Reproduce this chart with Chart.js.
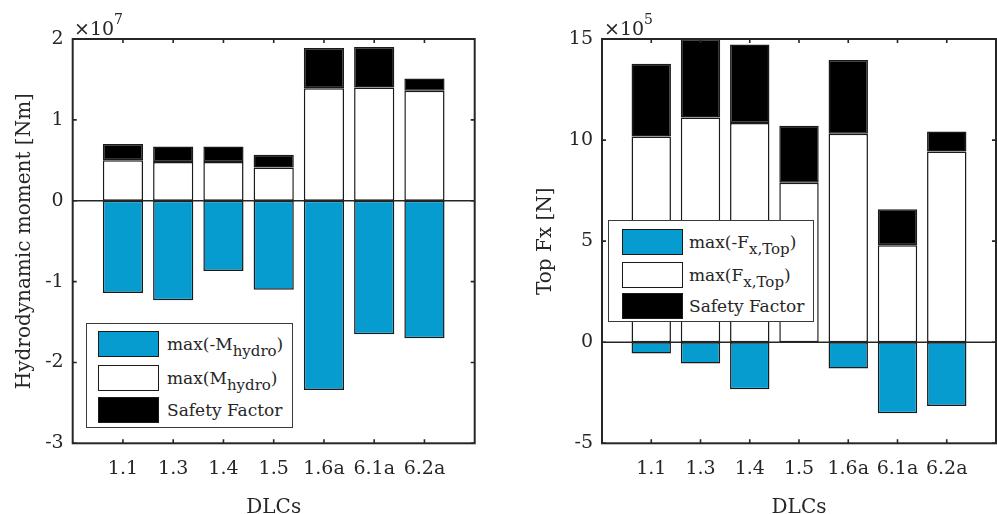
<!DOCTYPE html>
<html>
<head>
<meta charset="utf-8">
<script src="https://cdn.jsdelivr.net/npm/chart.js@4.4.0/dist/chart.umd.min.js"></script>
<style>
html, body { margin: 0; padding: 0; overflow: hidden; background: #fff; }
body { font-family: "DejaVu Serif", serif; color: #262626; }
#wrap { position: relative; width: 1010px; height: 514px; overflow: hidden; }
.pane { position: absolute; top: 0; }
.expo { position: absolute; font-size: 19px; line-height: 19px; white-space: nowrap; }
.expo sup { font-size: 14px; position: relative; top: -4px; }
.legend { position: absolute; background: #fff; border: 1px solid #3a3a3a; box-sizing: border-box; font-size: 17px; }
.patch { position: absolute; width: 61px; height: 26px; box-sizing: border-box; border: 1.5px solid #1a1a1a; }
.txt { position: absolute; left: 80px; line-height: 26px; white-space: nowrap; }
.txt sub { font-size: 15px; vertical-align: -6px; line-height: 0; }
</style>
</head>
<body>
<div id="wrap">
  <div class="pane" style="left:0"><canvas id="moment" width="497" height="514"></canvas></div>
  <div class="pane" style="left:497px"><canvas id="fx" width="513" height="514"></canvas></div>

  <div class="expo" style="left:74px; top:14px">&times;10<sup>7</sup></div>
  <div class="expo" style="left:604px; top:14px">&times;10<sup>5</sup></div>

  <div class="legend" id="legMoment" style="left:86px; top:323px; width:207px; height:105px">
    <div class="patch p0" style="left:11px; top:7px"></div>
    <div class="txt" style="top:7px">max(-M<sub>hydro</sub>)</div>
    <div class="patch p1" style="left:11px; top:41px"></div>
    <div class="txt" style="top:41px">max(M<sub>hydro</sub>)</div>
    <div class="patch p2" style="left:11px; top:73px"></div>
    <div class="txt" style="top:73px">Safety Factor</div>
  </div>

  <div class="legend" id="legFx" style="left:608px; top:220px; width:206px; height:102px">
    <div class="patch p0" style="left:13px; top:8px"></div>
    <div class="txt" style="top:8px">max(-F<sub>x,Top</sub>)</div>
    <div class="patch p1" style="left:13px; top:41px"></div>
    <div class="txt" style="top:41px">max(F<sub>x,Top</sub>)</div>
    <div class="patch p2" style="left:13px; top:72px"></div>
    <div class="txt" style="top:72px">Safety Factor</div>
  </div>
</div>

<script>
// load cases on the x axis
var dlcs = ['1.1', '1.3', '1.4', '1.5', '1.6a', '6.1a', '6.2a'];

// hydrodynamic moment, in 1e7 Nm
var momentNeg    = [-1.14, -1.23, -0.87, -1.10, -2.34, -1.65, -1.70];
var momentPos    = [0.50, 0.48, 0.48, 0.41, 1.39, 1.40, 1.36];
var momentSafety = [0.20, 0.19, 0.19, 0.16, 0.50, 0.50, 0.15];

// top Fx, in 1e5 N
var fxNeg    = [-0.56, -1.05, -2.33, 0, -1.30, -3.51, -3.15];
var fxPos    = [10.18, 11.12, 10.85, 7.89, 10.31, 4.80, 9.44];
var fxSafety = [3.60, 3.88, 3.88, 2.82, 3.65, 1.78, 0.99];

var momentRange = [-3, 2, 1];   // min, max, step
var fxRange     = [-5, 15, 5];

var colNeg = '#079ccf';
var colPos = '#ffffff';
var colSafety = '#000000';
var axisColor = '#262626';
var fontFam = '"DejaVu Serif", serif';

document.querySelectorAll('.p0').forEach(function (e) { e.style.background = colNeg; });
document.querySelectorAll('.p1').forEach(function (e) { e.style.background = colPos; });
document.querySelectorAll('.p2').forEach(function (e) { e.style.background = colSafety; });

// matlab style box: frame, inward ticks on all sides, baseline at zero
var axesBox = {
  id: 'axesBox',
  afterDraw: function (chart) {
    var ctx = chart.ctx, a = chart.chartArea;
    var x = chart.scales.x, y = chart.scales.y;
    var tl = 4;
    ctx.save();
    ctx.strokeStyle = axisColor;
    ctx.lineWidth = 1.6;

    var y0 = y.getPixelForValue(0);
    ctx.beginPath();
    ctx.moveTo(a.left, y0);
    ctx.lineTo(a.right, y0);
    ctx.stroke();

    ctx.beginPath();
    x.ticks.forEach(function (t) {
      if (t.value < 1 || t.value > dlcs.length) return;
      var px = x.getPixelForValue(t.value);
      ctx.moveTo(px, a.bottom); ctx.lineTo(px, a.bottom - tl);
      ctx.moveTo(px, a.top); ctx.lineTo(px, a.top + tl);
    });
    y.ticks.forEach(function (t) {
      var py = y.getPixelForValue(t.value);
      ctx.moveTo(a.left, py); ctx.lineTo(a.left + tl, py);
      ctx.moveTo(a.right, py); ctx.lineTo(a.right - tl, py);
    });
    ctx.stroke();

    ctx.lineWidth = 2;
    ctx.strokeRect(a.left, a.top, a.right - a.left, a.bottom - a.top);
    ctx.restore();
  }
};

function points(arr) {
  return arr.map(function (v, i) { return { x: i + 1, y: v }; });
}

function makeChart(id, neg, pos, safety, range, yTitle, yWidth, padRight, titlePad) {
  var barStyle = {
    borderColor: '#1a1a1a',
    borderWidth: 1.5,
    borderSkipped: false,
    barPercentage: 0.8,
    categoryPercentage: 1.0
  };
  return new Chart(document.getElementById(id), {
    type: 'bar',
    data: {
      datasets: [
        Object.assign({ label: 'neg', data: points(neg), backgroundColor: colNeg }, barStyle),
        Object.assign({ label: 'pos', data: points(pos), backgroundColor: colPos }, barStyle),
        Object.assign({ label: 'safety', data: points(safety), backgroundColor: colSafety }, barStyle)
      ]
    },
    options: {
      responsive: false,
      animation: false,
      layout: { padding: { left: 0, top: 39, right: padRight, bottom: 0 } },
      plugins: { legend: { display: false }, tooltip: { enabled: false } },
      scales: {
        x: {
          type: 'linear',
          stacked: true,
          offset: false,
          min: 0,
          max: dlcs.length + 1,
          grid: { display: false, drawTicks: false },
          border: { display: false },
          ticks: {
            stepSize: 1,
            autoSkip: false,
            maxRotation: 0,
            padding: 14,
            color: axisColor,
            font: { family: fontFam, size: 19 },
            callback: function (v) { return dlcs[v - 1] || ''; }
          },
          title: {
            display: true,
            text: 'DLCs',
            color: axisColor,
            font: { family: fontFam, size: 20, lineHeight: 0.6 },
            padding: { top: 0, bottom: 0 }
          },
          afterFit: function (s) { s.height = 70.7; }
        },
        y: {
          stacked: true,
          min: range[0],
          max: range[1],
          grid: { display: false, drawTicks: false },
          border: { display: false },
          ticks: {
            stepSize: range[2],
            padding: 9,
            color: axisColor,
            font: { family: fontFam, size: 19 },
            callback: function (v) { return String(v); }
          },
          title: {
            display: true,
            text: yTitle,
            color: axisColor,
            font: { family: fontFam, size: 20, lineHeight: 1 },
            padding: { top: titlePad, bottom: 0 }
          },
          afterFit: function (s) { s.width = yWidth; }
        }
      }
    },
    plugins: [axesBox]
  });
}

makeChart('moment', momentNeg, momentPos, momentSafety, momentRange,
  'Hydrodynamic moment [Nm]', 72.7, 22.3, 15);
makeChart('fx', fxNeg, fxPos, fxSafety, fxRange,
  'Top Fx [N]', 105, 6, 39);
</script>
</body>
</html>
